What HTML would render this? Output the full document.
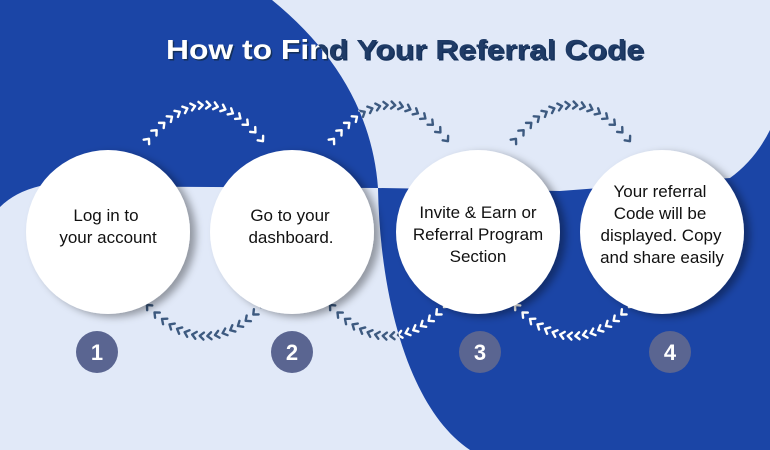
<!DOCTYPE html>
<html><head><meta charset="utf-8"><style>
html,body{margin:0;padding:0;background:#e1e9f8;}
svg{display:block;}
</style></head><body>
<svg id="s" width="770" height="450" viewBox="0 0 770 450" xmlns="http://www.w3.org/2000/svg">
<defs>
<clipPath id="blue">
<path d="M0,0 H272 Q370,80 378,188 L40,186 Q15,192 0,207 Z"/>
<path d="M378,188 L560,191 L730,178 Q755,160 770,130 V450 H470 C410,410 380,300 378,188 Z"/>
</clipPath>
<filter id="sh" x="-20%" y="-20%" width="150%" height="150%">
<feDropShadow dx="6" dy="3" stdDeviation="4" flood-color="#000" flood-opacity="0.35"/>
</filter>
</defs>
<rect width="770" height="450" fill="#e1e9f8"/>
<path d="M0,0 H272 Q370,80 378,188 L40,186 Q15,192 0,207 Z" fill="#1b45a6"/>
<path d="M378,188 L560,191 L730,178 Q755,160 770,130 V450 H470 C410,410 380,300 378,188 Z" fill="#1b45a6"/>

<g id="dark" fill="none" stroke="#3d5a80" stroke-width="2.4" stroke-linecap="round" stroke-linejoin="round"></g>
<g id="light" fill="none" stroke="#fff" stroke-width="2.4" stroke-linecap="round" stroke-linejoin="round" clip-path="url(#blue)"></g>

<g font-family="Liberation Sans, sans-serif" font-weight="bold" font-size="28" text-anchor="middle">
<text x="406.5" y="60.5" fill="#14305a" textLength="478" lengthAdjust="spacingAndGlyphs">How to Find Your Referral Code</text>
<text x="405" y="59" fill="#1f3b66" textLength="478" lengthAdjust="spacingAndGlyphs">How to Find Your Referral Code</text>
<text x="405" y="59" fill="#fff" clip-path="url(#blue)" textLength="478" lengthAdjust="spacingAndGlyphs">How to Find Your Referral Code</text>
</g>

<g fill="#fff" filter="url(#sh)">
<circle cx="108" cy="232" r="82"/>
<circle cx="292" cy="232" r="82"/>
<circle cx="478" cy="232" r="82"/>
<circle cx="662" cy="232" r="82"/>
</g>

<g font-family="Liberation Sans, sans-serif" font-size="17" fill="#111" text-anchor="middle">
<text x="106" y="221">Log in to</text>
<text x="108" y="243">your account</text>
<text x="290" y="221">Go to your</text>
<text x="291" y="243">dashboard.</text>
<text x="478" y="218">Invite &amp; Earn or</text>
<text x="478" y="240">Referral Program</text>
<text x="478" y="262">Section</text>
<text x="660" y="197">Your referral</text>
<text x="660" y="219">Code will be</text>
<text x="661" y="241">displayed. Copy</text>
<text x="662" y="263">and share easily</text>
</g>

<g fill="#5a6591">
<circle cx="97" cy="352" r="21"/>
<circle cx="292" cy="352" r="21"/>
<circle cx="480" cy="352" r="21"/>
<circle cx="670" cy="352" r="21"/>
</g>
<g font-family="Liberation Sans, sans-serif" font-size="22" fill="#fff" text-anchor="middle" font-weight="bold">
<text x="97" y="360">1</text>
<text x="292" y="360">2</text>
<text x="480" y="360">3</text>
<text x="670" y="360">4</text>
</g>
</svg>
<script>
(function(){
var ns="http://www.w3.org/2000/svg";
var arcs=[
[148,140,205,70,262,140],[333,140,390,70,447,140],[515,140,572,70,629,140],
[262,306,205,366,148,306],[445,306,388,366,331,306],[630,306,573,366,516,306]];
var d=document.getElementById("dark"),l=document.getElementById("light");
arcs.forEach(function(a){
  var n=16;
  for(var i=0;i<n;i++){
    var t=i/(n-1), u=1-t;
    var x=u*u*a[0]+2*u*t*a[2]+t*t*a[4], y=u*u*a[1]+2*u*t*a[3]+t*t*a[5];
    var dx=2*u*(a[2]-a[0])+2*t*(a[4]-a[2]), dy=2*u*(a[3]-a[1])+2*t*(a[5]-a[3]);
    var ang=Math.atan2(dy,dx)*180/Math.PI;
    [d,l].forEach(function(g){
      var p=document.createElementNS(ns,"polyline");
      p.setAttribute("points","-2.5,-3.5 1.5,0 -2.5,3.5");
      p.setAttribute("transform","translate("+x.toFixed(1)+","+y.toFixed(1)+") rotate("+ang.toFixed(1)+")");
      g.appendChild(p);
    });
  }
});
})();
</script>
</body></html>
